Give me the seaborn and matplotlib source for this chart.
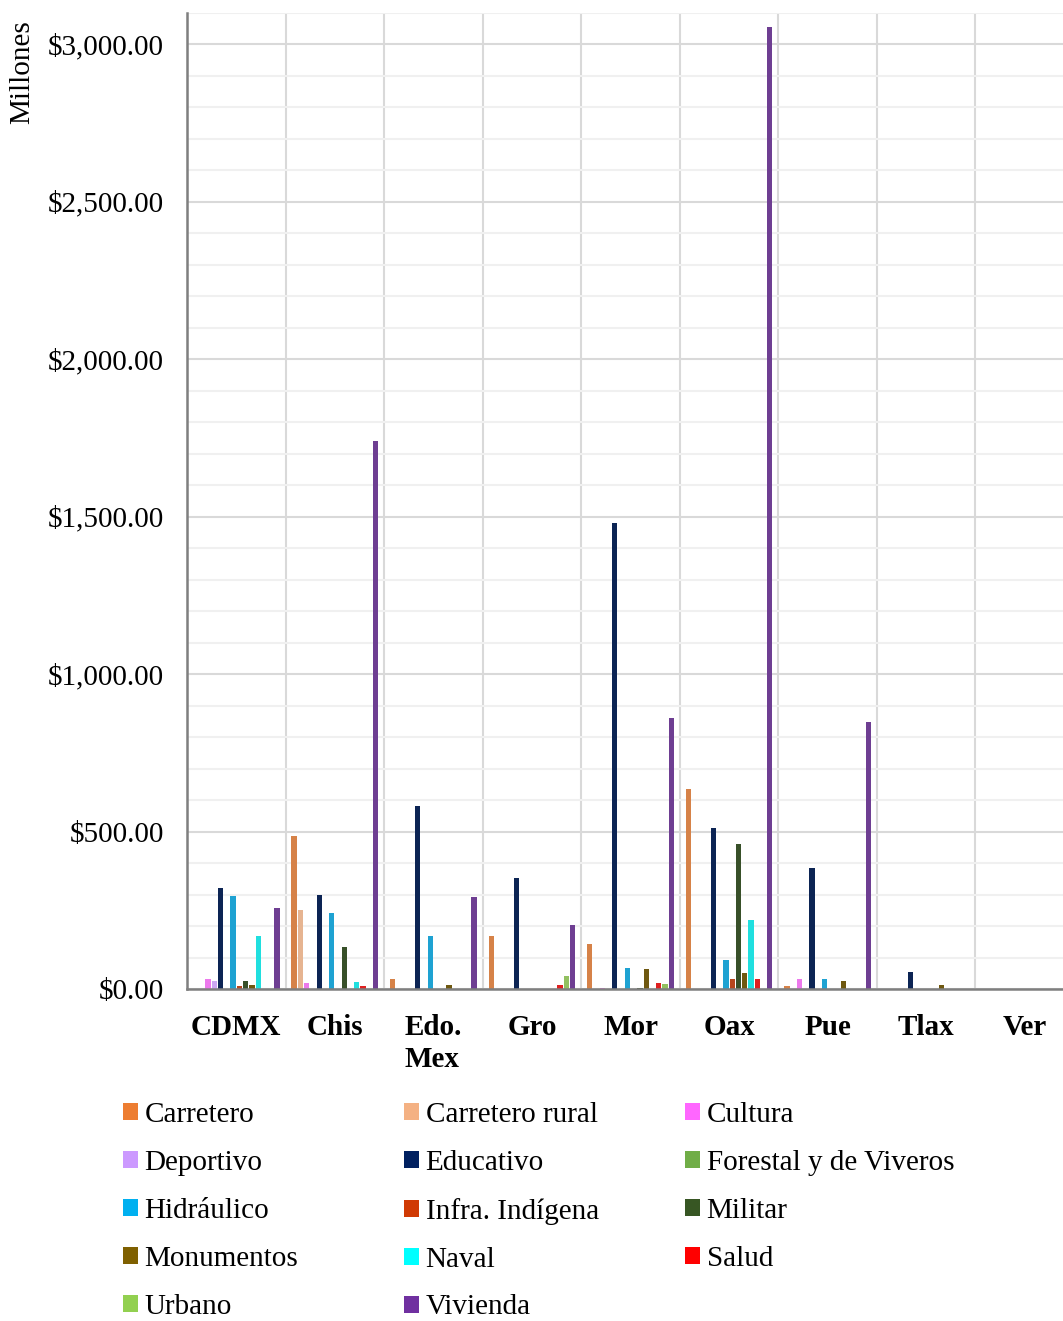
import matplotlib
matplotlib.use("Agg")
import matplotlib.pyplot as plt
from matplotlib.patches import Patch
from matplotlib.ticker import MultipleLocator, FuncFormatter, FixedLocator
import seaborn as sns
import pandas as pd

estados = ["CDMX", "Chis", "Edo.\nMex", "Gro", "Mor", "Oax", "Pue", "Tlax", "Ver"]
tipos = ["Carretero", "Carretero rural", "Cultura", "Deportivo", "Educativo",
         "Forestal y de Viveros", "Hidráulico", "Infra. Indígena", "Militar",
         "Monumentos", "Naval", "Salud", "Urbano", "Vivienda"]
colores = ["#ED7D31", "#F4B183", "#FF66FF", "#CC99FF", "#002060",
           "#70AD47", "#00B0F0", "#D03A04", "#375623",
           "#7F6000", "#00FFFF", "#FF0000", "#92D050", "#7030A0"]

# values in millions, one list per type, ordered as `estados`
carretero       = [0, 486, 32, 168, 143, 636, 10, 0, 0]
carretero_rural = [0, 251, 0, 0, 0, 0, 0, 0, 0]
cultura         = [32, 19, 0, 0, 3, 0, 32, 0, 0]
deportivo       = [25, 0, 0, 0, 0, 0, 0, 0, 0]
educativo       = [320, 298, 582, 351, 1479, 510, 384, 54, 0]
forestal        = [0, 0, 0, 0, 0, 0, 0, 0, 0]
hidraulico      = [295, 240, 167, 0, 66, 93, 32, 0, 0]
infra_indigena  = [10, 0, 0, 0, 0, 32, 0, 0, 0]
militar         = [25, 133, 0, 0, 4, 459, 0, 0, 0]
monumentos      = [13, 0, 13, 0, 62, 50, 24, 13, 0]
naval           = [167, 22, 0, 0, 0, 219, 0, 0, 0]
salud           = [0, 10, 0, 13, 19, 32, 0, 0, 0]
urbano          = [0, 0, 0, 40, 16, 0, 0, 0, 0]
vivienda        = [257, 1740, 291, 203, 860, 3054, 849, 0, 0]

series = [carretero, carretero_rural, cultura, deportivo, educativo, forestal,
          hidraulico, infra_indigena, militar, monumentos, naval, salud,
          urbano, vivienda]

rows = []
for t, vals in zip(tipos, series):
    for e, v in zip(estados, vals):
        rows.append({"Estado": e, "Tipo": t, "Valor": v})
df = pd.DataFrame(rows)

sns.set_style("white")
plt.rcParams["font.family"] = ["Liberation Serif", "DejaVu Serif"]
plt.rcParams["text.color"] = "black"
plt.rcParams["xtick.labelcolor"] = "black"
plt.rcParams["ytick.labelcolor"] = "black"
FS = 21

fig = plt.figure(figsize=(10.63, 13.21), dpi=100)
W, H = 1063, 1321
ax = fig.add_axes([187 / W, (H - 989) / H, 887 / W, (989 - 12.5) / H])

sns.barplot(data=df, x="Estado", y="Valor", hue="Tipo", order=estados,
            hue_order=tipos, palette=colores, width=0.89, gap=0.15,
            errorbar=None, legend=False, linewidth=0, ax=ax)

ax.set_xlim(-0.5, len(estados) - 0.5)
ax.set_ylim(0, 3100)
ax.set_xlabel("")
ax.set_ylabel("")

# y axis
ax.yaxis.set_major_locator(MultipleLocator(500))
ax.yaxis.set_minor_locator(MultipleLocator(100))
ax.yaxis.set_major_formatter(FuncFormatter(lambda v, p: f"${v:,.2f}"))
ax.tick_params(axis="y", which="major", direction="inout", length=11,
               width=1.5, color="#7f7f7f", labelsize=FS, pad=11,
               labelcolor="black")
ax.tick_params(axis="y", which="minor", direction="in", length=6,
               width=1.5, color="#7f7f7f")

# x axis
ax.xaxis.set_minor_locator(FixedLocator([i - 0.5 for i in range(len(estados) + 1)]))
ax.tick_params(axis="x", which="major", length=0, labelsize=FS, pad=18,
               labelcolor="black")
ax.tick_params(axis="x", which="minor", direction="inout", length=11,
               width=1.5, color="#7f7f7f")
for lab in ax.get_xticklabels():
    lab.set_fontweight("bold")
    lab.set_multialignment("left")
    lab.set_linespacing(1.25)

# grids
ax.set_axisbelow(True)
ax.grid(axis="y", which="minor", color="#f0f0f0", linewidth=1.5)
ax.grid(axis="y", which="major", color="#d9d9d9", linewidth=1.5)
ax.grid(axis="x", which="minor", color="#d9d9d9", linewidth=1.5)
ax.grid(axis="x", which="major", visible=False)

for s in ["top", "right"]:
    ax.spines[s].set_visible(False)
for s in ["left", "bottom"]:
    ax.spines[s].set_color("#7f7f7f")
    ax.spines[s].set_linewidth(1.8)

fig.text(22 / W, 1 - 20 / H, "Millones", rotation=90, ha="center", va="top",
         fontsize=FS, color="black")

# legend: three columns, row-major order
handles = [Patch(facecolor=c, edgecolor="none", label=t) for t, c in zip(tipos, colores)]
col_x = [125, 406, 687]
for ci, x0 in enumerate(col_x):
    hs = handles[ci::3]
    leg = fig.legend(handles=hs, loc="upper left",
                     bbox_to_anchor=((x0 - 2) / W, 1 - 1102 / H),
                     frameon=False, fontsize=FS, handlelength=0.52,
                     handleheight=0.52, handletextpad=0.22, labelspacing=0.75,
                     borderaxespad=0, borderpad=0, labelcolor="black")

fig.savefig("out.png", dpi=100)
